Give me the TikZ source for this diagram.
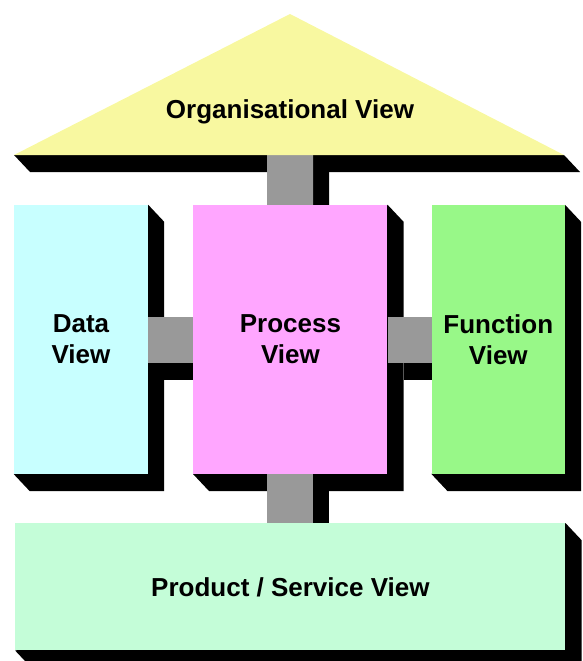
\documentclass[tikz,border=0pt]{standalone}
\usepackage{fontspec}
\setmainfont{Liberation Sans}
\usetikzlibrary{positioning,calc}
\definecolor{orgyellow}{RGB}{248,248,160}
\definecolor{datacyan}{RGB}{200,255,255}
\definecolor{procpink}{RGB}{255,166,255}
\definecolor{funcgreen}{RGB}{152,248,136}
\definecolor{prodmint}{RGB}{196,253,216}
\definecolor{conngray}{RGB}{153,153,153}
\pgfdeclarelayer{shadow}
\pgfdeclarelayer{bars}
\pgfsetlayers{shadow,bars,main}
\newcommand\viewfont{\fontsize{26}{31}\selectfont\bfseries}

\begin{document}
\begin{tikzpicture}
  [x=1pt,y=-1pt,
   view/.style={rectangle,inner sep=0pt,align=center,font=\viewfont},
   bar/.style={line width=46pt,draw=conngray},
   node distance=45pt]

  \useasboundingbox (0,0) rectangle (582,661);

  % roof
  \path (290,14)  coordinate (apex)
        (14,155)  coordinate (baseL)
        (564,155) coordinate (baseR);
  \fill[orgyellow] (apex) -- (baseR) -- (baseL) -- cycle;
  \node[view] (org) at (290,112) {Organisational View};

  % the three columns and the floor
  \path (81,339.5) node[view,fill=datacyan,minimum width=134pt,minimum height=269pt] (data) {Data\\View};
  \node[view,fill=procpink,minimum width=194pt,minimum height=269pt] (proc) [right=of data] {Process\\View};
  \node[view,fill=funcgreen,minimum width=133pt,minimum height=269pt] (func) [right=44pt of proc] {Function\\View};
  \node[view,fill=prodmint,minimum width=550pt,minimum height=127pt] (prod) [below=49pt of proc] {Product / Service View};

  \begin{pgfonlayer}{shadow}
    \foreach \b in {data,proc,func,prod}
      \fill (\b.north east) -- ++(16,17) -- ($(\b.south east)+(16,17)$)
            -- ($(\b.south west)+(16,17)$) -- (\b.south west) -- cycle;
    \fill (baseL) -- (baseR) -- ++(16,17) -- ($(baseL)+(16,17)$) -- cycle;
  \end{pgfonlayer}

  \begin{pgfonlayer}{bars}
    \foreach \a/\b in {org/proc,data/proc,proc/func,proc/prod} {
      \draw[bar,draw=black,transform canvas={shift={(16,17)}}] (\a) -- (\b);
      \draw[bar] (\a) -- (\b);
    }
  \end{pgfonlayer}
\end{tikzpicture}
\end{document}
